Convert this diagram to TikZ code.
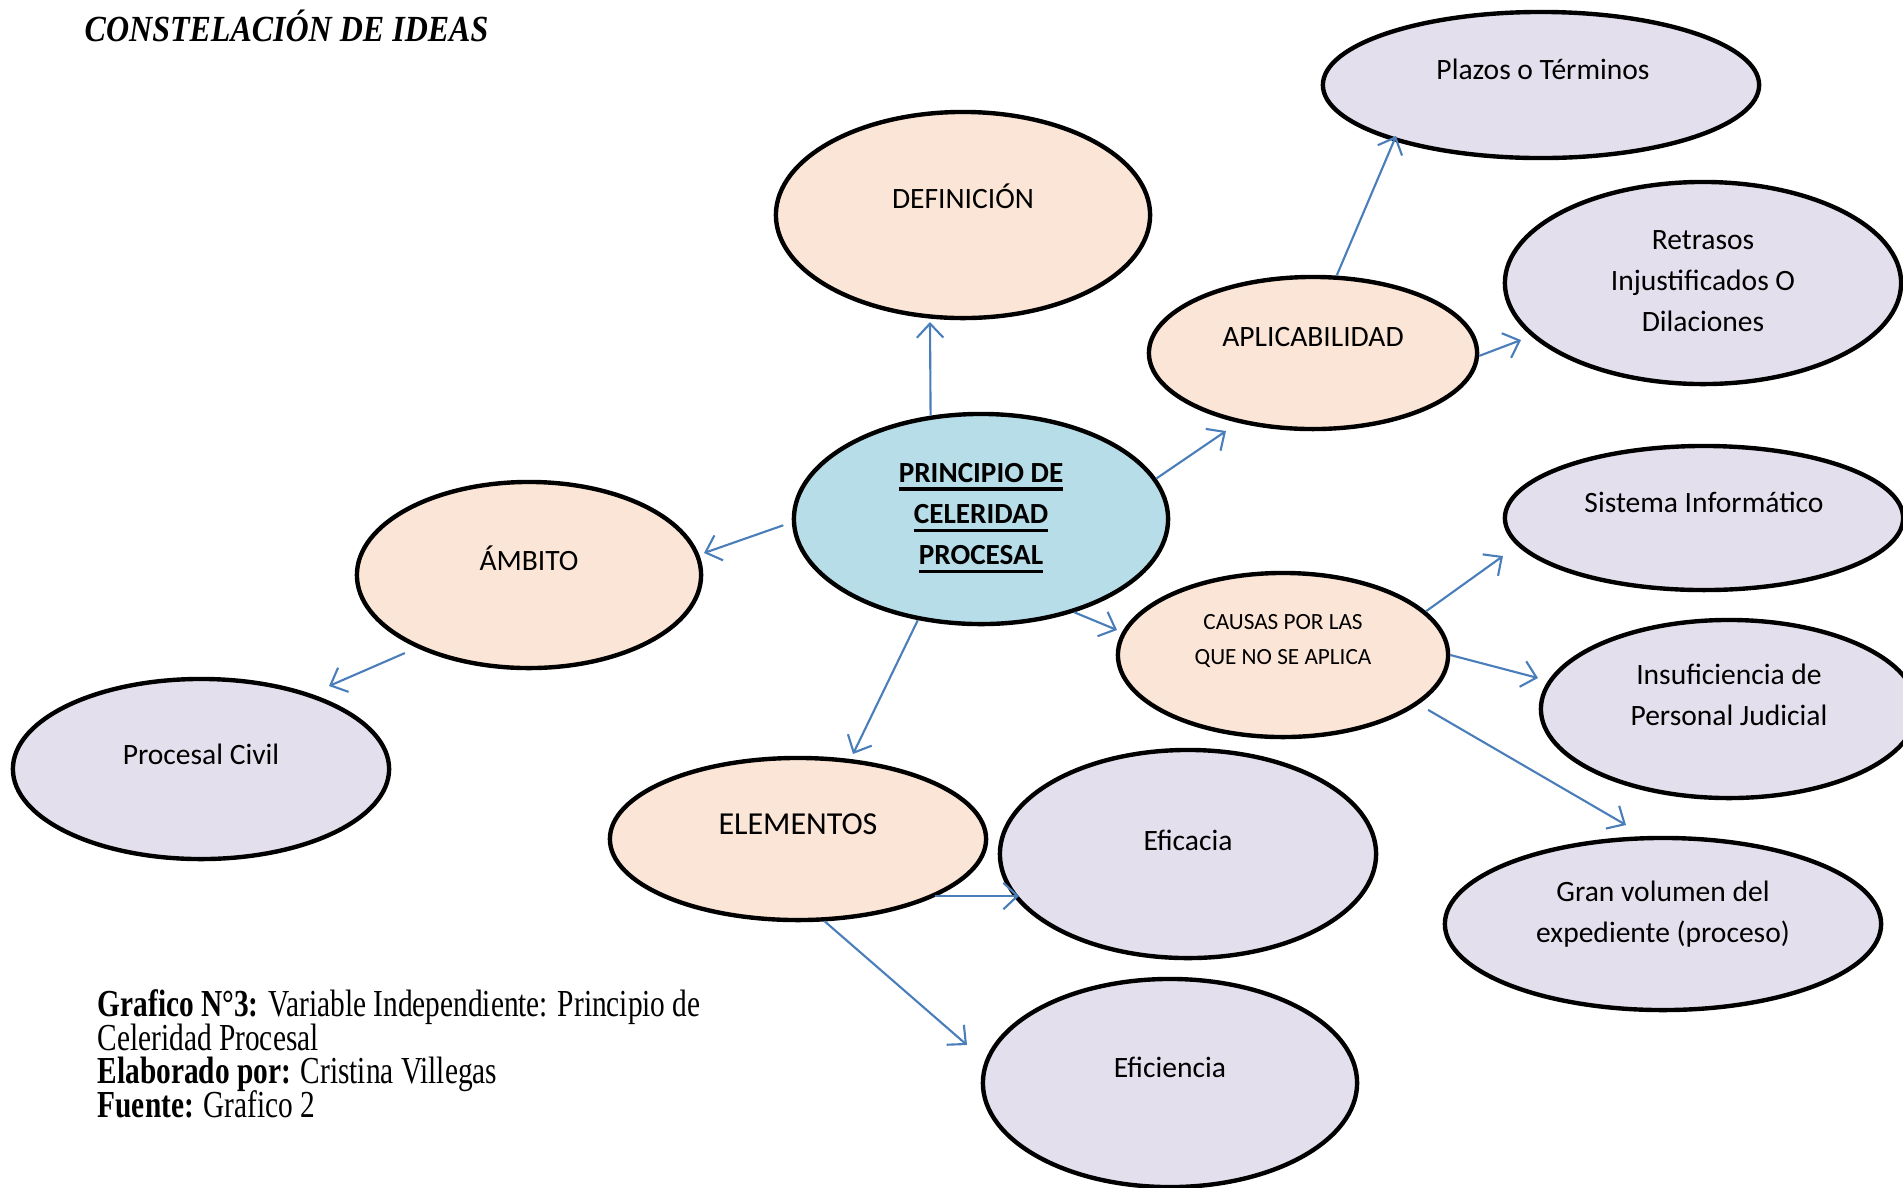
\documentclass[tikz,border=0pt]{standalone}
\usepackage{fontspec}
\setmainfont{Liberation Serif}
\newfontfamily\calfont{Carlito}
\usetikzlibrary{arrows.meta,shapes.geometric}
\definecolor{peach}{HTML}{FBE5D6}
\definecolor{lav}{HTML}{E4DFEC}
\definecolor{lblue}{HTML}{B7DDE8}
\definecolor{arrblue}{HTML}{4A7EBB}
\newcommand\myul[1]{\setbox0\hbox{#1}\rlap{\rule[-2.4pt]{\wd0}{0.9pt}}\box0}
\tikzset{
  ell/.style={ellipse,draw=black,line width=1.25pt,inner sep=0pt},
  pe/.style={ell,fill=peach},
  la/.style={ell,fill=lav},
  bl/.style={ell,fill=lblue},
  lbl/.style={font=\calfont\fontsize{8.4}{11.7}\selectfont,align=center,inner sep=0pt},
  conn/.style={draw=arrblue,line width=0.6pt,-{Straight Barb[length=4pt,width=7.5pt]}},
  captext/.style={anchor=base west,inner sep=0pt,font=\fontsize{8.35}{10}\selectfont}
}
\begin{document}
\begin{tikzpicture}[x=0.01cm,y=-0.01cm]
\useasboundingbox (0,0) rectangle (1903,1187);
\clip (0,0) rectangle (1903,1187);
% nodes
\node[pe,minimum width=3.74cm,minimum height=2.06cm] (def) at (963,215) {};
\node[la,minimum width=4.36cm,minimum height=1.46cm] (plazos) at (1541,85) {};
\node[pe,minimum width=3.28cm,minimum height=1.52cm] (apl) at (1313,353) {};
\node[la,minimum width=3.96cm,minimum height=2.02cm] (retr) at (1703,283) {};
\node[bl,minimum width=3.74cm,minimum height=2.10cm] (prin) at (981,519) {};
\node[pe,minimum width=3.44cm,minimum height=1.86cm] (amb) at (529,575) {};
\node[la,minimum width=3.98cm,minimum height=1.44cm] (sis) at (1704,518) {};
\node[pe,minimum width=3.30cm,minimum height=1.64cm] (causas) at (1283,655) {};
\node[la,minimum width=3.76cm,minimum height=1.78cm] (insuf) at (1729,709) {};
\node[la,minimum width=3.76cm,minimum height=1.80cm] (civil) at (201,769) {};
\node[pe,minimum width=3.76cm,minimum height=1.62cm] (elem) at (798,839) {};
\node[la,minimum width=3.76cm,minimum height=2.08cm] (efic) at (1188,854) {};
\node[la,minimum width=4.36cm,minimum height=1.72cm] (gran) at (1663,924) {};
\node[la,minimum width=3.74cm,minimum height=2.08cm] (efi2) at (1170,1083) {};
% labels
\node[lbl] (defT) at (963,196) {DEFINICIÓN};
\node[lbl] (plazosT) at (1543,69) {Plazos o Términos};
\node[lbl] (aplT) at (1313,337) {APLICABILIDAD};
\node[lbl] (retrT) at (1703,281) {Retrasos\\Injustificados O\\Dilaciones};
\node[lbl,font=\calfont\bfseries\fontsize{8.3}{11.7}\selectfont] (prinT) at (981,518) {\myul{PRINCIPIO DE}\\\myul{CELERIDAD}\\\myul{PROCESAL}};
\node[lbl] (ambT) at (529,558) {ÁMBITO};
\node[lbl] (sisT) at (1704,502) {Sistema Informático};
\node[lbl,font=\calfont\fontsize{6.6}{9.7}\selectfont] (causasT) at (1283,641) {CAUSAS POR LAS\\QUE NO SE APLICA};
\node[lbl] (insufT) at (1729,695) {Insuficiencia de\\Personal Judicial};
\node[lbl] (civilT) at (201,754) {Procesal Civil};
\node[lbl,font=\calfont\fontsize{9.1}{11}\selectfont] (elemT) at (798,824) {ELEMENTOS};
\node[lbl] (eficT) at (1188,840) {Eficacia};
\node[lbl] (granT) at (1663,914) {Gran volumen del\\expediente (proceso)};
\node[lbl] (efi2T) at (1170,1067) {Eficiencia};
% title and caption
\node[anchor=base west,inner sep=0pt,font=\bfseries\itshape\fontsize{9.1}{10}\selectfont] (title) at (84,41) {\scalebox{1}[1.15]{CONSTELACIÓN DE IDEAS}};
\node[captext] (c1) at (97,1016) {\scalebox{1}[1.3]{\textbf{Grafico N°3:} Variable Independiente: Principio de}};
\node[captext] (c2) at (97,1050) {\scalebox{1}[1.3]{Celeridad Procesal}};
\node[captext] (c3) at (97,1083) {\scalebox{1}[1.3]{\textbf{Elaborado por:} Cristina Villegas}};
\node[captext] (c4) at (97,1117) {\scalebox{1}[1.3]{\textbf{Fuente:} Grafico 2}};
% arrow end points
\coordinate (e1) at (930,322);
\coordinate (e2) at (1226,431);
\coordinate (e3) at (1396,136);
\coordinate (e4) at (1521,340);
\coordinate (e5) at (704,553);
\coordinate (e6) at (329,686);
\coordinate (e7) at (1117,630);
\coordinate (e8) at (853,754);
\coordinate (e9) at (1503,556);
\coordinate (e10) at (1538,678);
\coordinate (e11) at (1626,825);
\coordinate (e12) at (1019,896);
\coordinate (e13) at (967,1045);
% connectors
\draw[conn] (prin.116.8) -- (e1);
\draw[conn] (prin.13.9) -- (e2);
\draw[conn] (apl.73) -- (e3);
\draw[conn] (apl.-1.7) -- (e4);
\draw[conn,shorten <=0.09cm] (prin.181) -- (e5);
\draw[conn,shorten <=0.13cm] (amb.213.9) -- (e6);
\draw[conn] (prin.-45.3) -- (e7);
\draw[conn] (prin.238.6) -- (e8);
\draw[conn] (causas.17.6) -- (e9);
\draw[conn] (causas.0) -- (e10);
\draw[conn,shorten <=0.11cm] (causas.-20.5) -- (e11);
\draw[conn] (elem.-23.7 |- e12) -- (e12);
\draw[conn] (elem.-72.8) -- (e13);
\end{tikzpicture}
\end{document}
